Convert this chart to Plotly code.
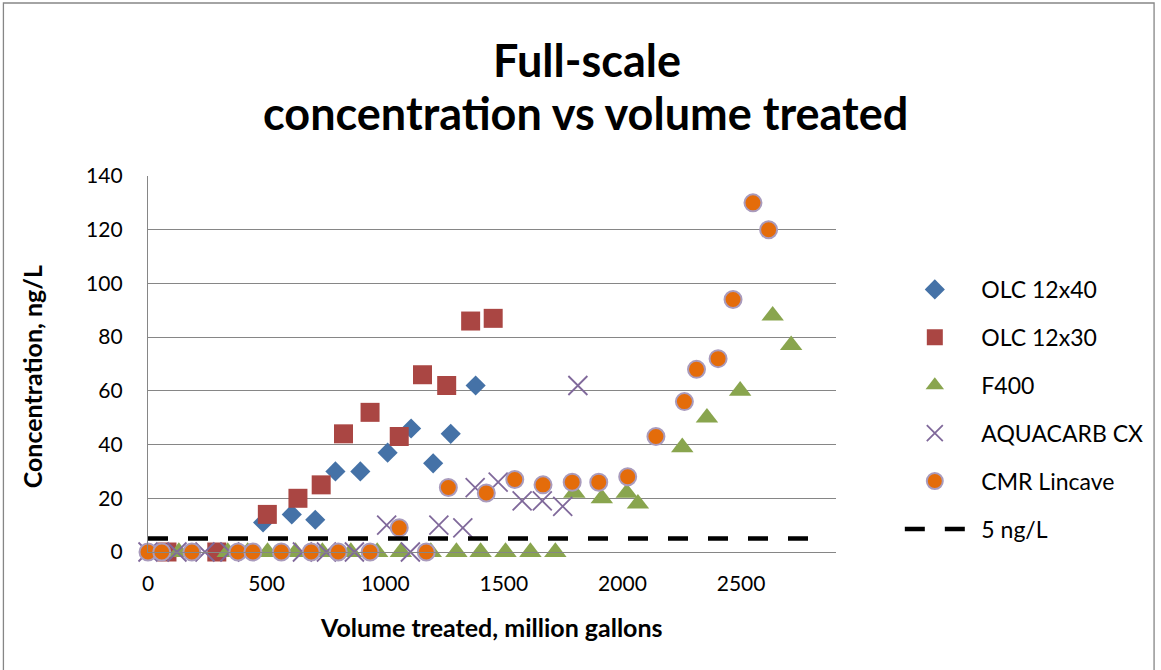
import plotly.graph_objects as go

# Volume treated (million gallons) and concentration (ng/L) for each media
olc40_x = [485, 606, 705, 790, 895, 1010, 1109, 1202, 1276, 1381]
olc40_y = [11, 14, 12, 30, 30, 37, 46, 33, 44, 62]

olc30_x = [80, 290, 503, 632, 730, 824, 936, 1059, 1157, 1259, 1360, 1455]
olc30_y = [0, 0, 14, 20, 25, 44, 52, 43, 66, 62, 86, 87]

f400_x = [130, 336, 420, 504, 622, 735, 855, 966, 1066, 1192, 1300, 1402,
          1507, 1612, 1717, 1797, 1913, 2018, 2065, 2252, 2356, 2496, 2633, 2711]
f400_y = [0, 0, 0, 0, 0, 0, 0, 0, 0, 0, 0, 0,
          0, 0, 0, 22, 20, 22, 18, 39, 50, 60, 88, 77]

aqua_x = [0, 122, 240, 345, 651, 752, 870, 1006, 1106, 1226, 1327, 1379,
          1476, 1577, 1662, 1748, 1812]
aqua_y = [0, 0, 0, 0, 0, 0, 0, 10, 0, 10, 9, 24,
          26, 19, 19, 17, 62]

cmr_x = [0, 58, 185, 379, 442, 562, 688, 802, 936, 1059, 1173, 1266, 1426,
         1546, 1665, 1788, 1900, 2022, 2141, 2261, 2312, 2403, 2466, 2550, 2616]
cmr_y = [0, 0, 0, 0, 0, 0, 0, 0, 0, 9, 0, 24, 22,
         27, 25, 26, 26, 28, 43, 56, 68, 72, 94, 130, 120]

limit_x = [0, 2800]
limit_y = [5, 5]

FONT = "Lato"
GRID = "#868686"
PAD = "\u2002"  # en space between legend symbol and label

fig = go.Figure()

fig.add_trace(go.Scatter(
    x=olc40_x, y=olc40_y, mode="markers", name=PAD + "OLC 12x40", legendgroup="a",
    marker=dict(symbol="diamond", size=15.5, color="#4572A7", line=dict(width=0)),
    cliponaxis=False))
fig.add_trace(go.Scatter(
    x=olc30_x, y=olc30_y, mode="markers", name=PAD + "OLC 12x30", legendgroup="b",
    marker=dict(symbol="square", size=19, color="#AA4643", line=dict(width=0)),
    cliponaxis=False))
fig.add_trace(go.Scatter(
    x=f400_x, y=f400_y, mode="markers", name=PAD + "F400", legendgroup="c",
    marker=dict(symbol="triangle-up", size=19.5, color="#89A54E", line=dict(width=0)),
    cliponaxis=False))
fig.add_trace(go.Scatter(
    x=aqua_x, y=aqua_y, mode="markers", name=PAD + "AQUACARB CX", legendgroup="d",
    marker=dict(symbol="x-thin", size=19, color="#80699B",
                line=dict(width=1.8, color="#80699B")),
    cliponaxis=False))
fig.add_trace(go.Scatter(
    x=cmr_x, y=cmr_y, mode="markers", name=PAD + "CMR Lincave", legendgroup="e",
    marker=dict(symbol="circle", size=17, color="#E46C0A",
                line=dict(width=2, color="#A99BBD")),
    cliponaxis=False))
fig.add_trace(go.Scatter(
    x=limit_x, y=limit_y, mode="lines", name=PAD + "5 ng/L", legendgroup="f",
    line=dict(color="black", width=4.5, dash="20px,20px"),
    cliponaxis=False))

L, R, T, B = 148, 323, 176, 118
W, H = 1161, 670
pw, ph = W - L - R, H - T - B


def px_x(p):
    return (p - L) / pw


def px_y(p):
    return (H - B - p) / ph


fig.update_layout(
    width=W, height=H,
    margin=dict(l=L, r=R, t=T, b=B, pad=0),
    paper_bgcolor="white", plot_bgcolor="white",
    font=dict(family=FONT, size=21, color="black"),
    showlegend=True,
    legend=dict(x=px_x(902), y=px_y(268), xanchor="left", yanchor="top",
                font=dict(family=FONT, size=23, color="black"),
                traceorder="grouped", tracegroupgap=15, itemwidth=60,
                bgcolor="rgba(0,0,0,0)"),
    xaxis=dict(range=[0, 2900], tick0=0, dtick=500, showgrid=False,
               zeroline=False, showline=True, linecolor=GRID, linewidth=1.3,
               ticks="", ticklabelstandoff=13,
               tickfont=dict(family=FONT, size=21)),
    yaxis=dict(range=[0, 140], tick0=0, dtick=20, showgrid=True,
               gridcolor=GRID, gridwidth=1.3, zeroline=False, showline=True,
               linecolor=GRID, linewidth=1.3, ticks="", ticklabelstandoff=20,
               tickfont=dict(family=FONT, size=21)),
    annotations=[
        dict(text="<b>Full-scale</b>", xref="paper", yref="paper",
             x=px_x(588), y=px_y(60), xanchor="center", yanchor="middle",
             showarrow=False, font=dict(family=FONT, size=45)),
        dict(text="<b>concentration vs volume treated</b>", xref="paper",
             yref="paper", x=px_x(587), y=px_y(113), xanchor="center",
             yanchor="middle", showarrow=False, font=dict(family=FONT, size=45)),
        dict(text="<b>Volume treated, million gallons</b>", xref="paper",
             yref="paper", x=px_x(492), y=px_y(627), xanchor="center",
             yanchor="middle", showarrow=False, font=dict(family=FONT, size=25)),
        dict(text="<b>Concentration, ng/L</b>", xref="paper", yref="paper",
             x=px_x(32), y=px_y(377), xanchor="center", yanchor="middle",
             textangle=-90, showarrow=False, font=dict(family=FONT, size=25)),
    ],
    shapes=[
        dict(type="rect", xref="paper", yref="paper",
             x0=px_x(3), x1=px_x(1157), y0=px_y(3), y1=px_y(700),
             line=dict(color=GRID, width=1.3), fillcolor="rgba(0,0,0,0)",
             layer="below"),
    ],
)

fig.write_html("out.html")
